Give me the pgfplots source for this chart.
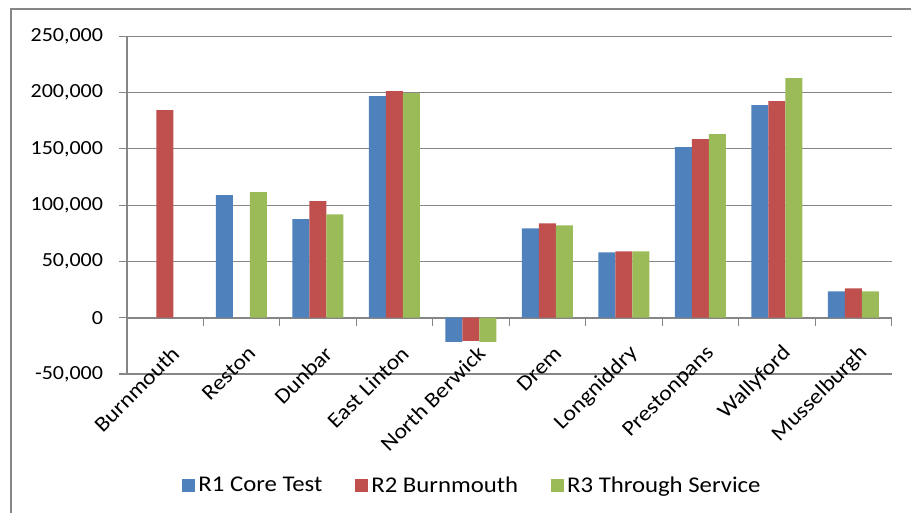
\documentclass[border=0pt]{standalone}
\usepackage{pgfplots}
\pgfplotsset{compat=1.18}
\usepackage{fontspec}
\setmainfont{Carlito}[FakeStretch=1.1]
\definecolor{c1}{HTML}{4F81BD}
\definecolor{c2}{HTML}{C0504D}
\definecolor{c3}{HTML}{9BBB59}
\definecolor{gridc}{HTML}{868686}
\begin{document}
\begin{tikzpicture}
\useasboundingbox (0,0) rectangle (911bp,513bp);
\draw[gridc, line width=1.2bp] (11bp,-5bp) -- (11bp,504bp) -- (920bp,504bp);
\begin{axis}[
  at={(126.7bp,139bp)}, anchor=south west,
  scale only axis, width=765bp, height=337.7bp,
  xmin=-0.5, xmax=9.5, ymin=-50000, ymax=250000,
  ybar=0pt, bar width=17bp,
  ytick={-50000,0,50000,100000,150000,200000,250000},
  scaled y ticks=false,
  /pgf/number format/.cd, fixed, 1000 sep={,}, assume math mode=true, /pgfplots/.cd,
  ymajorgrids, major grid style={gridc, line width=1.2bp},
  axis y line=left, axis x line=middle,
  axis line style={gridc, line width=1.7bp, -},
  every inner x axis line/.append style={-},
  every outer y axis line/.append style={-},
  xtick={0,...,9},
  xticklabels={Burnmouth,Reston,Dunbar,East Linton,North Berwick,Drem,Longniddry,Prestonpans,Wallyford,Musselburgh},
  major x tick style={draw=none},
  minor xtick={-0.5,0.5,...,9.5},
  tick style={gridc, line width=1.2bp},
  tick align=outside,
  major tick length=7.5bp, minor tick length=8bp,
  yticklabel style={font=\fontsize{20bp}{24bp}\selectfont, inner sep=0pt, anchor=east, xshift=-16bp},
  xticklabel style={font=\fontsize{21.5bp}{25bp}\selectfont, rotate=45, anchor=east, inner sep=0pt, xshift=-10bp, yshift=-25bp},
  legend columns=3,
  legend style={draw=none, at={(0.4527,-0.3287)}, anchor=center,
    font=\fontsize{22.5bp}{26bp}\selectfont,
    nodes={inner xsep=3bp},
    /tikz/every odd column/.append style={column sep=0bp},
    /tikz/every even column/.append style={column sep=30bp}},
  legend image code/.code={\fill[#1] (0bp,-6.5bp) rectangle (13bp,6.5bp);},
]
\addplot[fill=c1, draw=none] coordinates {(1,108800) (2,87500) (3,196900) (4,-21500) (5,79400) (6,58100) (7,151500) (8,188900) (9,23400)};
\addplot[fill=c2, draw=none] coordinates {(0,184400) (2,103500) (3,201300) (4,-20500) (5,83900) (6,59000) (7,158600) (8,192400) (9,26100)};
\addplot[fill=c3, draw=none] coordinates {(1,111500) (2,91900) (3,199600) (4,-21500) (5,82100) (6,59000) (7,163100) (8,212900) (9,23400)};
\legend{R1 Core Test, R2 Burnmouth, R3 Through Service}
\end{axis}
\end{tikzpicture}
\end{document}
